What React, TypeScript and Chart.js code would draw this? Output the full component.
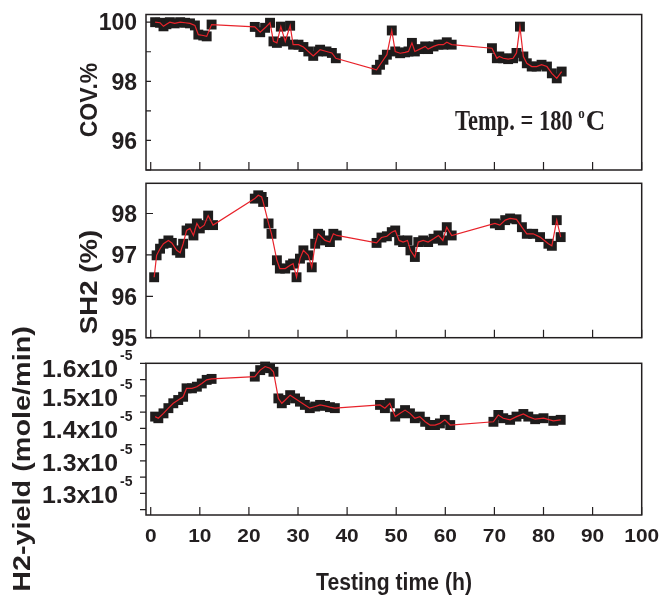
import React, { useEffect, useRef } from "react";
import { Chart, registerables } from "chart.js";

Chart.register(...registerables);

const PAGE_W = 663;
const PAGE_H = 598;
const SANS = '"Liberation Sans", Arial, Helvetica, sans-serif';
const SERIF = '"Liberation Serif", "Times New Roman", serif';
const INK = "#231f20";
const RED = "#e8232b";
const SQUARE = "#1e1c1c";

// ---------------- data ----------------
const covTime = [0.9, 1.9, 2.6, 3.2, 3.9, 4.9, 6.0, 7.0, 8.0, 9.0, 9.7, 10.7, 11.4, 12.4,
  21.2, 22.3, 23.3, 24.3, 25.0, 25.7, 26.5, 27.4, 28.4, 29.0, 30.1, 31.1, 32.1, 33.1, 34.1, 34.5, 35.8, 36.9, 37.7,
  46.0, 46.7, 47.4, 48.1, 49.1, 49.8, 50.8, 51.8, 52.5, 53.2, 53.8, 54.8, 55.9, 56.5, 57.6, 58.6, 59.6, 60.3, 61.3,
  69.5, 70.5, 71.0, 71.8, 72.8, 73.8, 74.5, 75.2, 75.9, 76.6, 77.6, 78.6, 79.6, 80.7, 81.7, 82.7, 83.7];
const covValue = [100.0, 99.98, 99.86, 99.93, 100.0, 99.96, 100.0, 99.98, 99.96, 99.89, 99.58, 99.55, 99.52, 99.92,
  99.84, 99.66, 99.81, 99.98, 99.35, 99.30, 99.85, 99.35, 99.88, 99.24, 99.24, 99.16, 99.01, 98.86, 99.01, 99.07, 99.01, 98.96, 98.78,
  98.39, 98.56, 98.73, 98.90, 99.72, 99.01, 98.95, 98.98, 99.01, 99.30, 99.01, 99.09, 99.18, 99.09, 99.18, 99.24, 99.24, 99.32, 99.24,
  99.12, 98.78, 98.84, 98.78, 98.75, 98.78, 98.96, 99.85, 98.84, 98.61, 98.50, 98.50, 98.56, 98.50, 98.27, 98.10, 98.33];

const sh2Time = [0.7, 1.2, 1.9, 2.6, 3.6, 4.3, 5.3, 6.0, 6.6, 7.3, 8.0, 8.7, 9.4, 10.0, 10.9, 11.7, 12.7,
  21.2, 21.9, 22.6, 22.9, 24.0, 24.6, 25.7, 26.3, 27.4, 28.4, 29.0, 29.7, 30.4, 31.1, 32.1, 32.8, 33.5, 34.1, 34.5, 35.5, 36.5, 37.2, 37.9,
  46.0, 47.0, 48.1, 49.1, 49.8, 50.6, 51.4, 52.3, 52.9, 53.8, 54.5, 55.5, 56.5, 57.6, 58.6, 59.5, 60.3, 61.3,
  70.1, 71.1, 72.2, 73.2, 74.5, 75.6, 76.6, 77.9, 79.3, 81.0, 81.7, 82.7, 83.5];
const sh2Value = [96.46, 96.99, 97.15, 97.27, 97.35, 97.29, 97.11, 97.05, 97.27, 97.59, 97.64, 97.47, 97.76, 97.64, 97.72, 97.95, 97.72,
  98.36, 98.44, 98.40, 98.28, 97.76, 97.51, 96.87, 96.67, 96.67, 96.75, 96.79, 96.46, 96.91, 97.11, 96.99, 96.70, 97.27, 97.51, 97.47, 97.35, 97.31, 97.51, 97.47,
  97.29, 97.42, 97.45, 97.55, 97.59, 97.35, 97.31, 97.35, 97.11, 96.95, 97.31, 97.35, 97.31, 97.39, 97.47, 97.35, 97.67, 97.47,
  97.76, 97.72, 97.84, 97.88, 97.86, 97.67, 97.51, 97.51, 97.43, 97.27, 97.22, 97.84, 97.43];

const h2Time = [0.9, 1.55, 2.6, 3.6, 4.6, 5.6, 6.6, 7.3, 8.4, 9.4, 10.4, 11.4, 12.4,
  21.2, 22.3, 23.3, 24.3, 25.0, 26.0, 26.7, 27.4, 28.4, 29.4, 30.4, 31.4, 32.4, 33.5, 34.5, 35.5, 36.5, 37.5,
  46.7, 47.7, 48.7, 49.8, 50.8, 51.8, 52.8, 53.8, 54.8, 55.9, 56.9, 57.9, 58.9, 59.9, 61.0,
  69.8, 70.8, 71.8, 73.2, 74.5, 75.9, 76.9, 78.3, 80.0, 82.0, 83.5];
// H2 yield in units of 1e-5 mole/min
const h2YieldE5 = [1.436, 1.431, 1.446, 1.462, 1.477, 1.487, 1.497, 1.523, 1.523, 1.528, 1.538, 1.549, 1.552,
  1.559, 1.579, 1.590, 1.585, 1.574, 1.492, 1.477, 1.487, 1.502, 1.492, 1.482, 1.472, 1.462, 1.467, 1.472, 1.469, 1.465, 1.462,
  1.472, 1.462, 1.477, 1.436, 1.446, 1.456, 1.446, 1.431, 1.436, 1.420, 1.410, 1.410, 1.415, 1.426, 1.410,
  1.420, 1.441, 1.431, 1.426, 1.436, 1.444, 1.436, 1.428, 1.431, 1.423, 1.426];

const xTickValues = [0, 10, 20, 30, 40, 50, 60, 70, 80, 90, 100];
const xTickLabels = ["0", "10", "20", "30", "40", "50", "60", "70", "80", "90", "100"];
const covTickValues = [95, 96, 97, 98, 99, 100];
const covLabelValues = [96, 98, 100];
const covLabels = ["96", "98", "100"];
const sh2TickValues = [95, 96, 97, 98];
const sh2Labels = ["95", "96", "97", "98"];
const h2TickValues = [1.15, 1.2, 1.25, 1.3, 1.35, 1.4, 1.45, 1.5, 1.55, 1.6];
const h2LabelValues = [1.6, 1.5, 1.4, 1.3, 1.2];
const h2LabelMantissa = ["1.6x10", "1.5x10", "1.4x10", "1.3x10", "1.3x10"];
const h2LabelExponent = "-5";

const xTitle = "Testing time (h)";
const covTitle = "COV.%";
const sh2Title = "SH2 (%)";
const h2Title = "H2-yield (mole/min)";

// ---------------- layout ----------------
const X_MIN = -0.96;
const X_MAX = 100;
const AREA_LEFT = 146;
const AREA_RIGHT = 641.7;

type TextOpts = {
  size: number;
  weight?: string;
  family?: string;
  align?: CanvasTextAlign;
  rot?: number;
  sx?: number;
  sy?: number;
  color?: string;
};

function txt(ctx: CanvasRenderingContext2D, s: string, x: number, y: number, o: TextOpts) {
  ctx.save();
  ctx.translate(x, y);
  if (o.rot) ctx.rotate(o.rot);
  ctx.scale(o.sx ?? 1, o.sy ?? 1);
  ctx.font = `${o.weight ?? "bold"} ${o.size}px ${o.family ?? SANS}`;
  ctx.textAlign = o.align ?? "left";
  ctx.textBaseline = "alphabetic";
  ctx.fillStyle = o.color ?? INK;
  ctx.fillText(s, 0, 0);
  ctx.restore();
}

function textWidth(ctx: CanvasRenderingContext2D, s: string, size: number, family: string, weight = "bold") {
  ctx.save();
  ctx.font = `${weight} ${size}px ${family}`;
  const w = ctx.measureText(s).width;
  ctx.restore();
  return w;
}

type Panel = {
  time: number[];
  values: number[];
  yMin: number;
  yMax: number;
  top: number;
  bottom: number;
  yTicks: number[];
  yTickLen: number;
  yTickOut: boolean;
  labels: (ctx: CanvasRenderingContext2D, chart: any) => void;
};

const panels: Panel[] = [
  {
    time: covTime,
    values: covValue,
    yMin: 95,
    yMax: 100.26,
    top: 14.5,
    bottom: 170,
    yTicks: covTickValues,
    yTickLen: 5,
    yTickOut: false,
    labels: (ctx, chart) => {
      const ys = chart.scales.y;
      covLabelValues.forEach((v, i) => {
        const py = ys.getPixelForValue(v);
        txt(ctx, covLabels[i], 137, py + 8.2, { size: 23, align: "right" });
      });
      txt(ctx, covTitle, 97, 100, { size: 23, rot: -Math.PI / 2, align: "center" });
      // annotation
      const base = 130;
      const part1 = "Temp. = 180 ";
      const f1 = 22.5;
      const w1 = textWidth(ctx, part1, f1, SERIF);
      let x = 455;
      txt(ctx, part1, x, base, { size: f1, family: SERIF, sy: 1.32 });
      x += w1;
      txt(ctx, "o", x, 118, { size: 13, family: SERIF, sy: 1.2 });
      x += textWidth(ctx, "o", 13, SERIF) + 1;
      txt(ctx, "C", x, base, { size: f1, family: SERIF, sy: 1.32, sx: 1.2 });
    },
  },
  {
    time: sh2Time,
    values: sh2Value,
    yMin: 95,
    yMax: 98.73,
    top: 183.3,
    bottom: 337.7,
    yTicks: sh2TickValues,
    yTickLen: 7,
    yTickOut: false,
    labels: (ctx, chart) => {
      const ys = chart.scales.y;
      sh2TickValues.forEach((v, i) => {
        const py = ys.getPixelForValue(v);
        txt(ctx, sh2Labels[i], 137, py + 8.2, { size: 23, align: "right" });
      });
      txt(ctx, sh2Title, 97, 282, { size: 23, rot: -Math.PI / 2, align: "center", sx: 1.2 });
    },
  },
  {
    time: h2Time,
    values: h2YieldE5,
    yMin: 1.1332,
    yMax: 1.6,
    top: 363.3,
    bottom: 515,
    yTicks: h2TickValues,
    yTickLen: 6,
    yTickOut: true,
    labels: (ctx, chart) => {
      const ys = chart.scales.y;
      const xs = chart.scales.x;
      const a = chart.chartArea;
      h2LabelValues.forEach((v, i) => {
        const py = ys.getPixelForValue(v);
        const c = Math.max(py + 1.5, a.top + 5.5);
        txt(ctx, h2LabelMantissa[i], 118, c + 8.3, { size: 23, align: "right", sx: 1.08 });
        txt(ctx, h2LabelExponent, 132.5, c - 8.5, { size: 14, align: "right" });
      });
      xTickValues.forEach((v, i) => {
        const px = xs.getPixelForValue(v);
        txt(ctx, xTickLabels[i], px, 541.7, { size: 19, align: "center", sx: 1.1 });
      });
      txt(ctx, xTitle, 394, 590, { size: 23, align: "center", sx: 0.92 });
      txt(ctx, h2Title, 30, 459, { size: 24, rot: -Math.PI / 2, align: "center", sx: 1.2 });
    },
  },
];

function decorate(chart: any, p: Panel) {
  const ctx: CanvasRenderingContext2D = chart.ctx;
  const a = chart.chartArea;
  const xs = chart.scales.x;
  const ys = chart.scales.y;
  ctx.save();
  ctx.strokeStyle = INK;
  ctx.lineWidth = 1.5;
  ctx.strokeRect(a.left, a.top, a.right - a.left, a.bottom - a.top);
  ctx.lineWidth = 1.2;
  ctx.beginPath();
  for (const v of xTickValues) {
    const px = xs.getPixelForValue(v);
    ctx.moveTo(px, a.bottom);
    ctx.lineTo(px, a.bottom - 8);
  }
  for (const v of p.yTicks) {
    const py = ys.getPixelForValue(v);
    ctx.moveTo(a.left, py);
    ctx.lineTo(p.yTickOut ? a.left - p.yTickLen : a.left + p.yTickLen, py);
  }
  ctx.stroke();
  p.labels(ctx, chart);
  ctx.restore();
}

function buildChart(canvas: HTMLCanvasElement, p: Panel) {
  const pts = p.time.map((t, i) => ({ x: t, y: p.values[i] }));
  return new Chart(canvas, {
    type: "line",
    data: {
      datasets: [
        {
          data: pts,
          borderColor: RED,
          borderWidth: 1.2,
          pointRadius: 0,
          fill: false,
          tension: 0,
          order: 0,
          clip: false,
        },
        {
          data: pts,
          showLine: false,
          pointStyle: "rect",
          pointRadius: 7,
          pointHoverRadius: 7,
          pointBackgroundColor: SQUARE,
          pointBorderColor: SQUARE,
          pointBorderWidth: 0,
          borderColor: SQUARE,
          order: 1,
          clip: false,
        },
      ],
    } as any,
    options: {
      responsive: false,
      animation: false,
      events: [],
      layout: {
        padding: {
          left: AREA_LEFT,
          right: PAGE_W - AREA_RIGHT,
          top: p.top,
          bottom: PAGE_H - p.bottom,
        },
      },
      plugins: { legend: { display: false }, tooltip: { enabled: false } },
      scales: {
        x: {
          type: "linear",
          min: X_MIN,
          max: X_MAX,
          grid: { display: false },
          border: { display: false },
          ticks: { display: false },
          afterFit: (s: any) => {
            s.height = 0;
          },
        },
        y: {
          type: "linear",
          min: p.yMin,
          max: p.yMax,
          grid: { display: false },
          border: { display: false },
          ticks: { display: false },
          afterFit: (s: any) => {
            s.width = 0;
          },
        },
      },
    } as any,
    plugins: [{ id: "panelDeco", afterDraw: (chart: any) => decorate(chart, p) }],
  });
}

export default function App() {
  const r0 = useRef<HTMLCanvasElement>(null);
  const r1 = useRef<HTMLCanvasElement>(null);
  const r2 = useRef<HTMLCanvasElement>(null);
  useEffect(() => {
    const refs = [r0, r1, r2];
    const charts = refs.map((r, i) => buildChart(r.current as HTMLCanvasElement, panels[i]));
    return () => charts.forEach((c) => c.destroy());
  }, []);
  const canvasStyle: React.CSSProperties = { position: "absolute", left: 0, top: 0, display: "block" };
  return (
    <div style={{ position: "absolute", left: 0, top: 0, width: PAGE_W, height: PAGE_H, background: "#fff" }}>
      <canvas ref={r0} width={PAGE_W} height={PAGE_H} style={canvasStyle} />
      <canvas ref={r1} width={PAGE_W} height={PAGE_H} style={canvasStyle} />
      <canvas ref={r2} width={PAGE_W} height={PAGE_H} style={canvasStyle} />
    </div>
  );
}
